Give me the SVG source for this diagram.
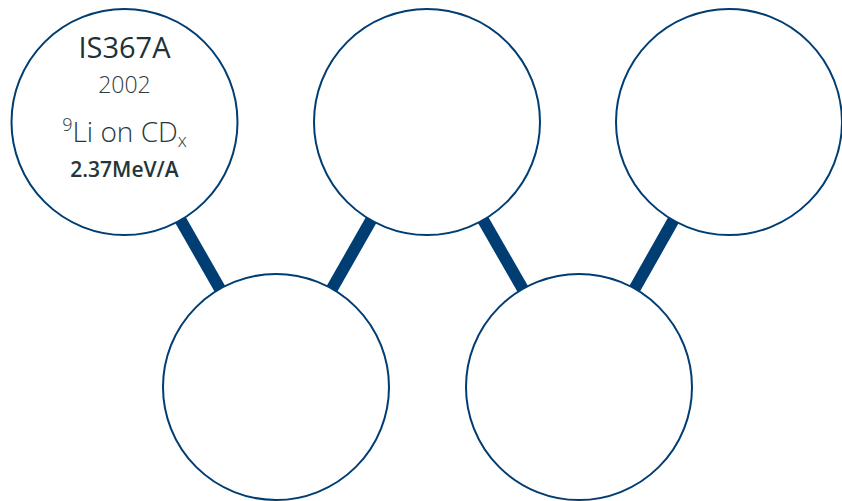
<svg xmlns="http://www.w3.org/2000/svg" width="842" height="501" viewBox="0 0 842 501">
  <style>
    .link { stroke: #003d73; stroke-width: 12; stroke-linecap: butt; }
    .node { fill: #ffffff; stroke: #003d73; stroke-width: 2; }
    .t { font-family: "Open Sans", "Noto Sans", "DejaVu Sans", sans-serif; text-anchor: middle; fill: #223234; }
    .title { font-size: 29px; font-weight: 500; }
    .year { font-size: 23px; font-weight: 300; fill: #2f3b3d; }
    .beam { font-size: 28px; font-weight: 300; fill: #2a3739; }
    .energy { font-size: 21px; font-weight: 600; fill: #263638; }
  </style>
  <rect width="842" height="501" fill="#ffffff"/>
  <g id="connectors">
    <line class="link" x1="124.5" y1="122" x2="276" y2="387"/>
    <line class="link" x1="427" y1="122" x2="276" y2="387"/>
    <line class="link" x1="427" y1="122" x2="579" y2="387"/>
    <line class="link" x1="729" y1="122" x2="579" y2="387"/>
  </g>
  <g id="node-is367a">
    <circle class="node" cx="124.5" cy="122" r="113"/>
    <text class="t title" x="124.5" y="58">IS367A</text>
    <text class="t year" x="124.5" y="93">2002</text>
    <text class="t beam" x="124.5" y="142"><tspan font-size="18" dy="-11">9</tspan><tspan dy="11">Li on CD</tspan><tspan font-size="18" dy="5">x</tspan></text>
    <text class="t energy" x="124.5" y="177">2.37MeV/A</text>
  </g>
  <g id="node-top-middle">
    <circle class="node" cx="427" cy="122" r="113"/>
  </g>
  <g id="node-top-right">
    <circle class="node" cx="729" cy="122" r="113"/>
  </g>
  <g id="node-bottom-left">
    <circle class="node" cx="276" cy="387" r="113"/>
  </g>
  <g id="node-bottom-right">
    <circle class="node" cx="579" cy="387" r="113"/>
  </g>
</svg>
